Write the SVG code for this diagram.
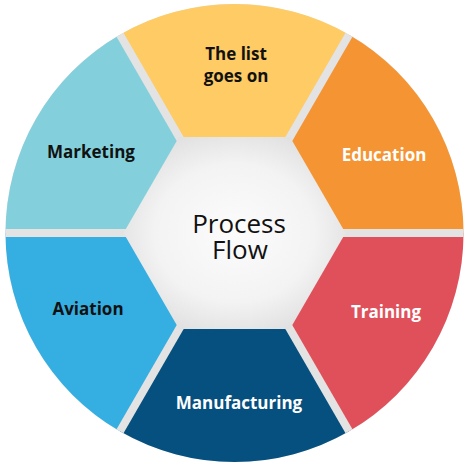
<svg xmlns="http://www.w3.org/2000/svg" width="468" height="468" viewBox="0 0 468 468">
  <defs>
    <radialGradient id="hexGrad" cx="50%" cy="50%" r="60%">
      <stop offset="0" stop-color="#fcfcfc"/>
      <stop offset="0.6" stop-color="#f3f3f3"/>
      <stop offset="1" stop-color="#dcdcdc"/>
    </radialGradient>
  </defs>
  <style>
    .lbl { font-family: "Open Sans", "Liberation Sans", sans-serif; font-weight: 700; font-size: 17px; text-anchor: middle; }
    .dark { fill: #111111; }
    .light { fill: #ffffff; }
    .gap { stroke: #e3e3e3; stroke-width: 8; stroke-linecap: butt; fill: none; }
    .center { font-family: "Open Sans", "Liberation Sans", sans-serif; font-size: 26px; fill: #111111; text-anchor: middle; }
  </style>

  <circle cx="234.5" cy="233" r="229" fill="#e3e3e3"/>

  <g id="list">
    <path d="M234.5 233 L120 34.7 A229 229 0 0 1 349 34.7 Z" fill="#fecb65"/>
    <text class="lbl dark"><tspan x="236" y="60">The list</tspan><tspan x="236" y="82">goes on</tspan></text>
  </g>
  <g id="education">
    <path d="M234.5 233 L349 34.7 A229 229 0 0 1 463.5 233 Z" fill="#f59433"/>
    <text class="lbl light" x="384" y="161">Education</text>
  </g>
  <g id="training">
    <path d="M234.5 233 L463.5 233 A229 229 0 0 1 349 431.3 Z" fill="#e0505b"/>
    <text class="lbl light" x="386" y="318">Training</text>
  </g>
  <g id="manufacturing">
    <path d="M234.5 233 L349 431.3 A229 229 0 0 1 120 431.3 Z" fill="#06507f"/>
    <text class="lbl light" x="239" y="409">Manufacturing</text>
  </g>
  <g id="aviation">
    <path d="M234.5 233 L120 431.3 A229 229 0 0 1 5.5 233 Z" fill="#35aee2"/>
    <text class="lbl dark" x="88" y="315">Aviation</text>
  </g>
  <g id="marketing">
    <path d="M234.5 233 L5.5 233 A229 229 0 0 1 120 34.7 Z" fill="#83d0dc"/>
    <text class="lbl dark" x="91" y="158">Marketing</text>
  </g>

  <g id="separators">
    <line class="gap" x1="234.5" y1="233" x2="463.5" y2="233"/>
    <line class="gap" x1="234.5" y1="233" x2="349" y2="431.3"/>
    <line class="gap" x1="234.5" y1="233" x2="120" y2="431.3"/>
    <line class="gap" x1="234.5" y1="233" x2="5.5" y2="233"/>
    <line class="gap" x1="234.5" y1="233" x2="120" y2="34.7"/>
    <line class="gap" x1="234.5" y1="233" x2="349" y2="34.7"/>
  </g>

  <g id="process-flow">
    <polygon points="345.5,233 290,329.1 179,329.1 123.5,233 179,136.9 290,136.9" fill="url(#hexGrad)"/>
    <text class="center"><tspan x="239" y="233">Process</tspan><tspan x="240" y="259">Flow</tspan></text>
  </g>
</svg>
